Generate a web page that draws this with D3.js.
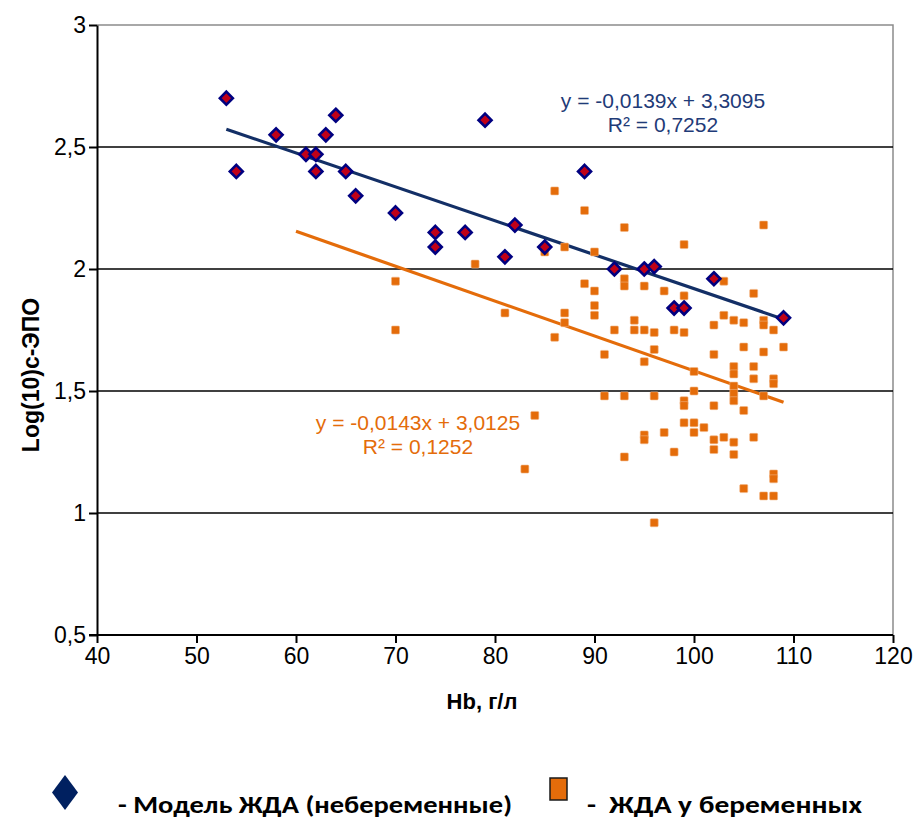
<!DOCTYPE html>
<html>
<head>
<meta charset="utf-8">
<script src="https://cdn.jsdelivr.net/npm/d3@7"></script>
<style>
  body { margin: 0; background: #fff; }
  text { font-family: Arial, "Liberation Sans", sans-serif; }
</style>
</head>
<body>
<div id="graph"></div>
<script>
var width = 920,
height = 822;

// Модель ЖДА (небеременные): [Hb, log c-ЭПО]
var modelPoints = [
  [53, 2.70], [54, 2.40], [58, 2.55], [61, 2.47], [62, 2.47], [62, 2.40],
  [63, 2.55], [64, 2.63], [65, 2.40], [66, 2.30], [70, 2.23], [74, 2.15],
  [74, 2.09], [77, 2.15], [79, 2.61], [81, 2.05], [82, 2.18], [85, 2.09],
  [89, 2.40], [92, 2.00], [95, 2.00], [96, 2.01], [98, 1.84], [99, 1.84],
  [102, 1.96], [109, 1.80]
];

// ЖДА у беременных
var pregnantPoints = [
  [70, 1.95], [70, 1.75], [78, 2.02], [81, 1.82], [83, 1.18], [84, 1.40],
  [85, 2.07], [86, 2.32], [86, 1.72], [87, 2.09], [87, 1.82], [87, 1.78],
  [89, 2.24], [89, 1.94], [90, 2.07], [90, 1.91], [90, 1.85], [90, 1.81],
  [91, 1.65], [91, 1.48], [92, 1.75], [93, 2.17], [93, 1.96], [93, 1.93],
  [93, 1.48], [93, 1.23], [94, 1.79], [94, 1.75], [95, 1.93], [95, 1.75],
  [95, 1.62], [95, 1.32], [95, 1.30], [96, 2.01], [96, 1.74], [96, 1.67],
  [96, 1.48], [96, 0.96], [97, 1.91], [97, 1.33], [98, 1.75], [98, 1.25],
  [99, 2.10], [99, 1.89], [99, 1.74], [99, 1.46], [99, 1.44], [99, 1.37],
  [100, 1.58], [100, 1.50], [100, 1.37], [100, 1.33], [101, 1.35],
  [102, 1.77], [102, 1.65], [102, 1.44], [102, 1.30], [102, 1.26],
  [103, 1.95], [103, 1.81], [103, 1.31], [104, 1.79], [104, 1.60],
  [104, 1.57], [104, 1.52], [104, 1.49], [104, 1.46], [104, 1.29],
  [104, 1.24], [105, 1.78], [105, 1.68], [105, 1.42], [105, 1.10],
  [106, 1.90], [106, 1.60], [106, 1.55], [106, 1.31], [107, 2.18],
  [107, 1.79], [107, 1.77], [107, 1.66], [107, 1.48], [107, 1.07],
  [108, 1.75], [108, 1.55], [108, 1.53], [108, 1.16], [108, 1.14],
  [108, 1.07], [109, 1.68]
];

// trend lines: [slope, intercept], x extent
var modelTrend = [-0.0139, 3.3095], modelTrendX = [53, 109];
var pregnantTrend = [-0.0143, 3.0125], pregnantTrendX = [60, 109];
var modelLabel = ['y = -0,0139x + 3,3095', 'R² = 0,7252'];
var pregnantLabel = ['y = -0,0143x + 3,0125', 'R² = 0,1252'];

var xTicks = [40, 50, 60, 70, 80, 90, 100, 110, 120];
var yTicks = [0.5, 1, 1.5, 2, 2.5, 3];
var yGrid = [1, 1.5, 2, 2.5];

var navy = '#132f66', orange = '#e46c0a';
var ru = d3.formatLocale({decimal: ',', thousands: ' ', grouping: [3], currency: ['', '']});

var x = d3.scaleLinear().domain([40, 120]).range([97, 893]);
var y = d3.scaleLinear().domain([0.5, 3]).range([635, 25]);

var svg = d3.select('#graph').append('svg')
    .attr('width', width).attr('height', height);

// plot frame (grey top/right)
svg.append('path')
  .attr('d', 'M' + x(40) + ',' + y(3) + 'H' + x(120) + 'V' + y(0.5))
  .attr('fill', 'none').attr('stroke', '#8c8c8c').attr('stroke-width', 1.5);

svg.selectAll('.grid').data(yGrid).enter().append('line')
  .attr('class', 'grid')
  .attr('x1', x(40)).attr('x2', x(120))
  .attr('y1', function(d) { return y(d); }).attr('y2', function(d) { return y(d); })
  .attr('stroke', '#000').attr('stroke-width', 1.6);

var xAxis = svg.append('g')
  .attr('transform', 'translate(0,' + y(0.5) + ')')
  .call(d3.axisBottom(x).tickValues(xTicks).tickSize(8).tickSizeOuter(0).tickPadding(5));
var yAxis = svg.append('g')
  .attr('transform', 'translate(' + x(40) + ',0)')
  .call(d3.axisLeft(y).tickValues(yTicks).tickSize(8).tickSizeOuter(0).tickPadding(3)
    .tickFormat(ru.format('~g')));

[xAxis, yAxis].forEach(function(a) {
  a.select('.domain').attr('stroke', '#000').attr('stroke-width', 2);
  a.selectAll('.tick line').attr('stroke', '#000').attr('stroke-width', 2);
  a.selectAll('.tick text').attr('fill', '#000').style('font-size', '23px')
    .style('font-family', 'Arial, "Liberation Sans", sans-serif');
});
// x axis line starts a little left of the y axis
xAxis.select('.domain').attr('d', 'M' + (x(40) - 8) + ',0H' + x(120));

// axis titles
svg.append('text')
  .attr('transform', 'translate(39,' + 375 + ') rotate(-90)')
  .attr('text-anchor', 'middle')
  .style('font-size', '23px').style('font-weight', 'bold')
  .text('Log(10)с-ЭПО');
svg.append('text')
  .attr('x', 482).attr('y', 709)
  .attr('text-anchor', 'middle')
  .style('font-size', '22px').style('font-weight', 'bold')
  .text('Hb,  г/л');

// trend lines
function trendLine(coef, ext, color) {
  svg.append('line')
    .attr('x1', x(ext[0])).attr('y1', y(coef[0] * ext[0] + coef[1]))
    .attr('x2', x(ext[1])).attr('y2', y(coef[0] * ext[1] + coef[1]))
    .attr('stroke', color).attr('stroke-width', 3.2);
}
trendLine(pregnantTrend, pregnantTrendX, orange);
trendLine(modelTrend, modelTrendX, navy);

// pregnant squares
var s = 8;
svg.selectAll('.sq').data(pregnantPoints).enter().append('rect')
  .attr('class', 'sq')
  .attr('x', function(d) { return x(d[0]) - s / 2; })
  .attr('y', function(d) { return y(d[1]) - s / 2; })
  .attr('width', s).attr('height', s).attr('rx', 1)
  .attr('fill', orange).attr('stroke', '#f2b684').attr('stroke-width', 0.6);

// model diamonds
var h = 6.5;
var diamond = 'M0,' + (-h) + 'L' + h + ',0L0,' + h + 'L' + (-h) + ',0Z';
svg.selectAll('.dm').data(modelPoints).enter().append('path')
  .attr('class', 'dm')
  .attr('transform', function(d) { return 'translate(' + x(d[0]) + ',' + y(d[1]) + ')'; })
  .attr('d', diamond)
  .attr('fill', '#c00018').attr('stroke', '#000080').attr('stroke-width', 2.6);

// equation labels
function eqLabel(lines, cx, baseline, color) {
  svg.append('text')
    .attr('text-anchor', 'middle').attr('fill', color)
    .style('font-size', '21px')
    .selectAll('tspan').data(lines).enter().append('tspan')
    .attr('x', cx).attr('y', function(d, i) { return baseline + i * 24; })
    .text(function(d) { return d; });
}
eqLabel(modelLabel, 663, 108, '#1f3b78');
eqLabel(pregnantLabel, 418, 430, orange);

// legend
var legend = svg.append('g');
legend.append('path')
  .attr('d', 'M65,775L78,792.5L65,810L52,792.5Z')
  .attr('fill', '#002060');
legend.append('rect')
  .attr('x', 550).attr('y', 778).attr('width', 17).attr('height', 22)
  .attr('fill', orange).attr('stroke', '#1a1a1a').attr('stroke-width', 1.5);
legend.append('text')
  .attr('x', 118).attr('y', 813)
  .attr('textLength', 394).attr('lengthAdjust', 'spacingAndGlyphs')
  .style('font-family', 'Carlito, "Liberation Sans Narrow", "Open Sans", sans-serif')
  .style('font-size', '24px').style('font-weight', 'bold')
  .text('- Модель ЖДА (небеременные)');
legend.append('text')
  .attr('x', 587).attr('y', 813)
  .attr('textLength', 275).attr('lengthAdjust', 'spacingAndGlyphs')
  .attr('xml:space', 'preserve')
  .style('font-family', 'Carlito, "Liberation Sans Narrow", "Open Sans", sans-serif')
  .style('font-size', '24px').style('font-weight', 'bold')
  .text('-  ЖДА у беременных');
</script>
</body>
</html>
